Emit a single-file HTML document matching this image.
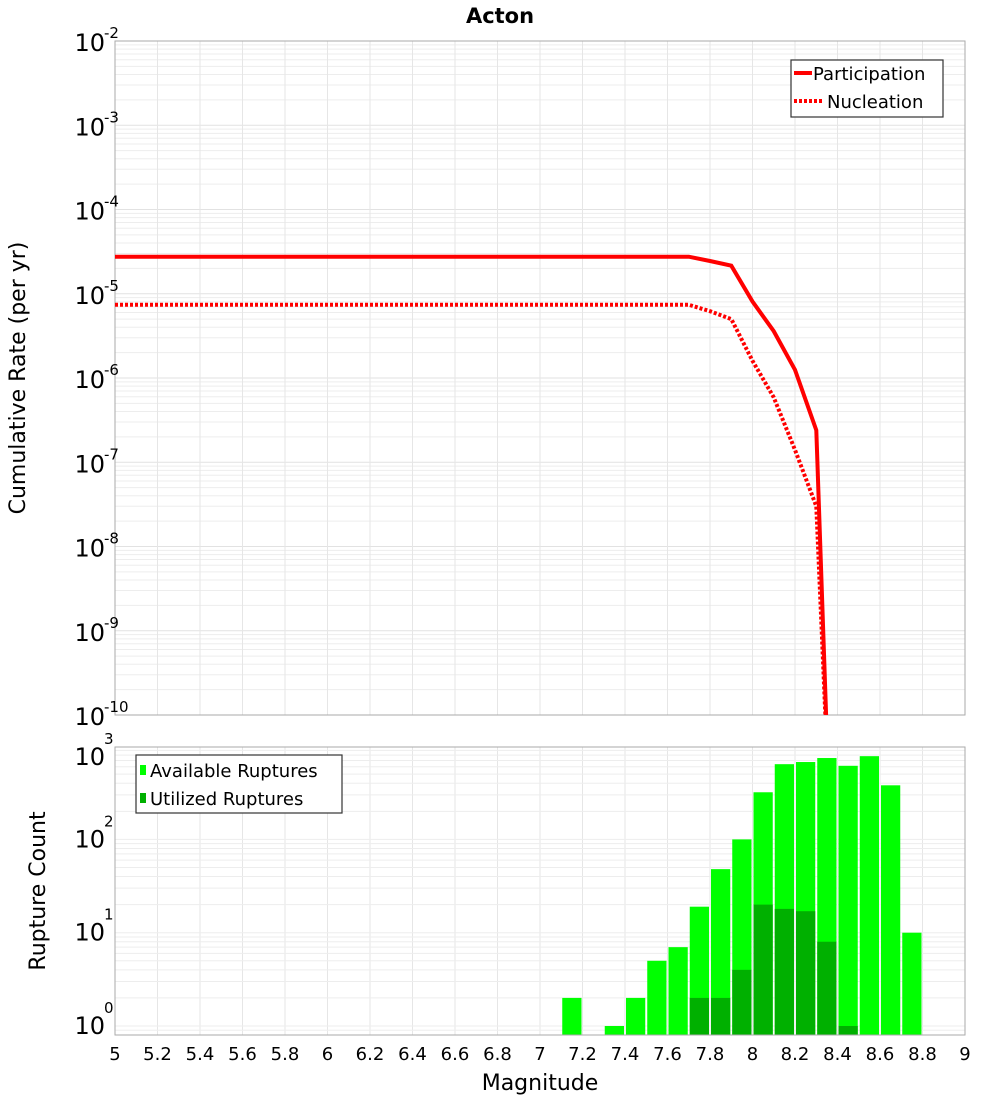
<!DOCTYPE html>
<html><head><meta charset="utf-8"><style>
body{margin:0;background:#fff;}
svg text{font-family:"DejaVu Sans","Liberation Sans",sans-serif;}
</style></head><body>
<svg id="c" width="1000" height="1100" xmlns="http://www.w3.org/2000/svg">
<text x="500" y="23" text-anchor="middle" font-size="21" font-weight="bold">Acton</text>
<g id="topPanel"></g>
<g id="botPanel"></g>
<text transform="translate(25,378) rotate(-90)" text-anchor="middle" font-size="22">Cumulative Rate (per yr)</text>
<text transform="translate(45,891) rotate(-90)" text-anchor="middle" font-size="22">Rupture Count</text>
<text x="540" y="1090" text-anchor="middle" font-size="22">Magnitude</text>
<g>
<rect x="791" y="60" width="152" height="57" fill="#fff" stroke="#333" stroke-width="1.2"/>
<line x1="794" y1="73" x2="812" y2="73" stroke="#f00" stroke-width="4"/>
<text x="813" y="80" font-size="18">Participation</text>
<line x1="794" y1="101" x2="822" y2="101" stroke="#f00" stroke-width="4" stroke-dasharray="3,2"/>
<text x="827" y="108" font-size="18">Nucleation</text>
</g>
</svg>
<script>
const rateMags=[5,7.7,7.8,7.9,8.0,8.1,8.2,8.3,8.36];
const participation=[2.75e-5,2.75e-5,2.45e-5,2.15e-5,8.1e-6,3.6e-6,1.25e-6,2.4e-7,1e-11];
const nucleation=[7.4e-6,7.4e-6,6.2e-6,5.0e-6,1.6e-6,5.9e-7,1.4e-7,3.0e-8,1e-11];
const barMags=[7.1,7.3,7.4,7.5,7.6,7.7,7.8,7.9,8.0,8.1,8.2,8.3,8.4,8.5,8.6,8.7];
const available=[2,1,2,5,7,19,48,100,320,640,675,745,615,780,380,10];
const utilized=[0,0,0,0,0,2,2,4,20,18,17,8,1,0,0,0];
const xTicks=["5","5.2","5.4","5.6","5.8","6","6.2","6.4","6.6","6.8","7","7.2","7.4","7.6","7.8","8","8.2","8.4","8.6","8.8","9"];
const NS="http://www.w3.org/2000/svg";
const X0=115,X1=965;
const xs=m=>X0+(m-5)/4*(X1-X0);
const T0=41,T1=715;
const yTop=v=>T0+(-2-Math.log10(v))/8*(T1-T0);
const B0=747,B1=1035,BZ=1026,BD=93.3;
const yBot=v=>BZ-Math.log10(v)*BD;
function mk(p,tag,a){const e=document.createElementNS(NS,tag);for(const k in a)e.setAttribute(k,a[k]);p.appendChild(e);return e;}
const topG=document.getElementById('topPanel'),botG=document.getElementById('botPanel');
mk(topG,'rect',{x:X0,y:T0,width:X1-X0,height:T1-T0,fill:'#fff'});
for(let d=-10;d<-2;d++){for(let k=1;k<10;k++){const yy=yTop(k*Math.pow(10,d));const g=mk(topG,'line',{x1:X0,x2:X1,y1:yy,y2:yy,stroke:k==1?'#e2e2e2':'#ededed','stroke-width':1});}}
for(let i=0;i<xTicks.length;i++){const xx=xs(5+i*0.2);mk(topG,'line',{x1:xx,x2:xx,y1:T0,y2:T1,stroke:'#e6e6e6'});mk(botG,'line',{x1:xx,x2:xx,y1:B0,y2:B1,stroke:'#e6e6e6'});}
mk(topG,'rect',{x:X0,y:T0,width:X1-X0,height:T1-T0,fill:'none',stroke:'#aaa'});
for(let d=-10;d<=-2;d++){const yy=yTop(Math.pow(10,d));const t=mk(topG,'text',{x:105,y:yy+10,'text-anchor':'end','font-size':24});t.textContent='10';

const s=mk(topG,'text',{x:104,y:yy-3,'font-size':15});s.textContent=String(d);}
const clip=mk(topG,'clipPath',{id:'cp'});mk(clip,'rect',{x:X0,y:T0,width:X1-X0,height:T1-T0});
function path(vals){return rateMags.map((m,i)=>(i?'L':'M')+xs(m).toFixed(1)+','+yTop(vals[i]).toFixed(1)).join(' ');}
const pl=mk(topG,'path',{d:path(participation),fill:'none',stroke:'#f00','stroke-width':4,'clip-path':'url(#cp)'});

const nl=mk(topG,'path',{d:path(nucleation),fill:'none',stroke:'#f00','stroke-width':4,'stroke-dasharray':'3,2','clip-path':'url(#cp)'});

for(let d=-1;d<3;d++){for(let k=1;k<10;k++){const v=k*Math.pow(10,d);const yy=yBot(v);if(yy<B0||yy>B1)continue;mk(botG,'line',{x1:X0,x2:X1,y1:yy,y2:yy,stroke:'#ededed'});}}
for(let i=0;i<barMags.length;i++){
const r=mk(botG,'rect',{x:xs(barMags[i])+1,y:yBot(available[i]),width:xs(barMags[i]+0.1)-xs(barMags[i])-2,height:B1-yBot(available[i]),fill:'#00ff00'});

if(utilized[i]>0){const u=mk(botG,'rect',{x:xs(barMags[i])+1,y:yBot(utilized[i]),width:xs(barMags[i]+0.1)-xs(barMags[i])-2,height:B1-yBot(utilized[i]),fill:'#00b000'});
}}
mk(botG,'rect',{x:X0,y:B0,width:X1-X0,height:B1-B0,fill:'none',stroke:'#aaa'});
for(let d=0;d<=3;d++){const yy=yBot(Math.pow(10,d));const t=mk(botG,'text',{x:105,y:Math.max(yy,757)+8,'text-anchor':'end','font-size':24});t.textContent='10';

const s=mk(botG,'text',{x:104,y:Math.max(yy,757)-13,'font-size':15});s.textContent=String(d);}
for(let i=0;i<xTicks.length;i++){const t=mk(botG,'text',{x:xs(5+i*0.2),y:1060,'text-anchor':'middle','font-size':18});t.textContent=xTicks[i];
}
const lg=mk(botG,'g',{});


mk(lg,'rect',{x:136,y:755,width:206,height:58,fill:'#fff',stroke:'#333','stroke-width':1.2});
mk(lg,'rect',{x:140,y:765,width:6,height:10,fill:'#00ff00'});
mk(lg,'rect',{x:140,y:793,width:6,height:10,fill:'#00b000'});
const a=mk(lg,'text',{x:150,y:777,'font-size':18});a.textContent='Available Ruptures';
const b=mk(lg,'text',{x:150,y:805,'font-size':18});b.textContent='Utilized Ruptures';
</script>
</body></html>
